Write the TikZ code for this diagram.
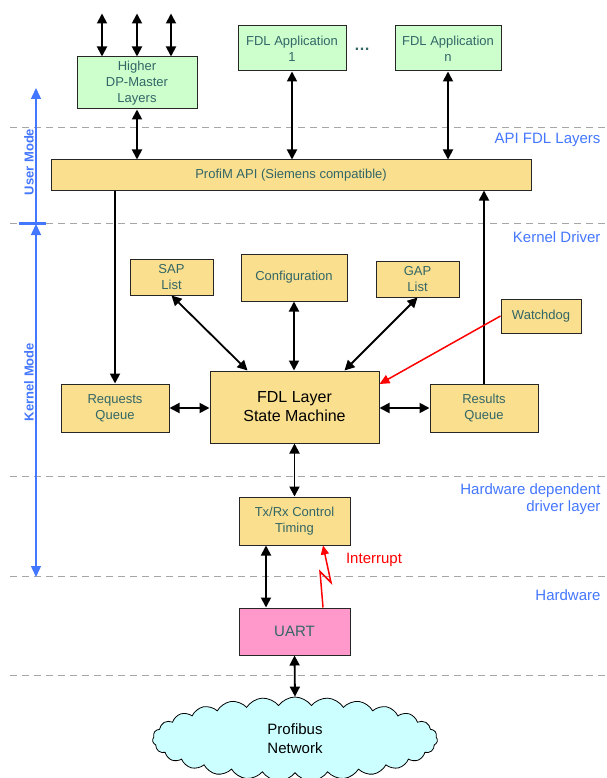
\documentclass[tikz,border=0pt]{standalone}
\usepackage{fontspec}
\setmainfont{Liberation Sans}
\usetikzlibrary{arrows.meta,shapes.symbols}
\definecolor{boxyellow}{HTML}{F9DF8E}
\definecolor{boxgreen}{HTML}{CCFFCC}
\definecolor{boxpink}{HTML}{FF99CC}
\definecolor{cloudcyan}{HTML}{CCFFFF}
\definecolor{labelblue}{HTML}{4477FF}
\definecolor{boxtext}{HTML}{336666}
\begin{document}
\begin{tikzpicture}[x=1pt, y=-1pt,
    box/.style={draw=black!85, line width=1pt, text=boxtext, align=center, inner sep=0pt,
        font=\fontsize{13}{16}\selectfont},
    ybox/.style={box, fill=boxyellow},
    gbox/.style={box, fill=boxgreen},
    link/.style={line width=1.8pt, {Triangle[length=10pt,width=10pt]}-{Triangle[length=10pt,width=10pt]}},
    flow/.style={line width=1.8pt, -{Triangle[length=10pt,width=10pt]}},
    layer/.style={gray!70, line width=1pt, dash pattern=on 7pt off 5pt},
    layername/.style={labelblue, anchor=east, align=right, font=\fontsize{15}{17}\selectfont},
    modename/.style={labelblue, rotate=90, font=\bfseries\fontsize{13}{15}\selectfont}]
    \useasboundingbox (0,0) rectangle (606,778);

    % Layer borders
    \foreach \ly in {128,223,476,576,675}
        \draw[layer] (10,\ly) -- (606,\ly);
    \node[layername] (lapi) at (604,140) {API FDL Layers};
    \node[layername] (lkern) at (604,237) {Kernel Driver};
    \node[layername] (lhwdrv) at (604,499) {Hardware dependent\\driver layer};
    \node[layername] (lhw) at (604,595) {Hardware};

    % User / kernel mode
    \coordinate (umtop) at (36,88);
    \coordinate (umbot) at (36,223);
    \coordinate (kmtop) at (36,224);
    \coordinate (kmbot) at (36,577);
    \draw[labelblue, line width=1.5pt, -{Triangle[length=11pt,width=10pt]}] (umbot) -- (umtop);
    \draw[labelblue, line width=1.5pt, {Triangle[length=11pt,width=10pt]}-{Triangle[length=11pt,width=10pt]}] (kmtop) -- (kmbot);
    \draw[labelblue, line width=3pt] ([xshift=-17pt]umbot) -- ([xshift=10pt]umbot);
    \node[modename] (umode) at (29,162) {User Mode};
    \node[modename] (kmode) at (29,382) {Kernel Mode};

    % User space
    \node[gbox, minimum width=120pt, minimum height=52pt] (hdp) at (137,83) {Higher\\DP-Master\\Layers};
    \node[gbox, minimum width=108pt, minimum height=45pt] (app1) at (292,48.5) {FDL Application\\1};
    \node[gbox, minimum width=106pt, minimum height=45pt] (appn) at (448,48.5) {FDL Application\\n};
    \node[text=boxtext, font=\bfseries\fontsize{16}{17}\selectfont] (dots) at (362,49) {\dots};
    \node[ybox, minimum width=480pt, minimum height=30pt] (api) at (291,175) {ProfiM API (Siemens compatible)};

    % Kernel
    \node[ybox, minimum width=83pt, minimum height=36pt] (sap) at (171.5,277) {SAP\\List};
    \node[ybox, minimum width=106pt, minimum height=47pt] (conf) at (294,277.5) {Configuration};
    \node[ybox, minimum width=83pt, minimum height=36pt] (gap) at (417.5,279) {GAP\\List};
    \node[ybox, minimum width=80pt, minimum height=34pt] (wdog) at (541,316) {Watchdog};
    \node[ybox, minimum width=108pt, minimum height=48pt] (req) at (115,408) {Requests\\Queue};
    \node[ybox, minimum width=169pt, minimum height=72pt, text=black,
        font=\fontsize{16}{19}\selectfont] (fdl) at (294.5,407) {FDL Layer\\State Machine};
    \node[ybox, minimum width=108pt, minimum height=48pt] (res) at (484,408) {Results\\Queue};

    % Hardware
    \node[ybox, minimum width=111pt, minimum height=48pt] (txrx) at (294.5,521) {Tx/Rx Control\\Timing};
    \node[box, fill=boxpink, minimum width=111pt, minimum height=47pt,
        font=\fontsize{15}{17}\selectfont] (uart) at (294.5,631.5) {UART};
    \node[cloud, cloud puffs=27, cloud puff arc=110, draw=black, line width=0.8pt, fill=cloudcyan,
        minimum width=285pt, minimum height=84pt, align=center, inner sep=0pt,
        font=\fontsize{15}{19}\selectfont] (net) at (295,739) {Profibus\\Network};

    % Connections
    \foreach \tx in {-35,0,34}
        \draw[link] ([xshift=\tx pt]hdp.north) -- ++(0,-43);
    \draw[link] (hdp.south) -- (hdp.south |- api.north);
    \draw[link] (app1.south) -- (app1.south |- api.north);
    \draw[link] (appn.south) -- (appn.south |- api.north);
    \draw[flow] (req.north |- api.south) -- (req.north);
    \draw[flow] (res.north) -- (res.north |- api.south);
    \draw[link] (sap.south) -- ([xshift=-47pt]fdl.north);
    \draw[link] (conf.south) -- (conf.south |- fdl.north);
    \draw[link] (gap.south) -- ([xshift=50pt]fdl.north);
    \draw[link] (req.east) -- (req.east -| fdl.west);
    \draw[link] (fdl.east |- res.west) -- (res.west);
    \draw[red, line width=1.5pt, -{Triangle[length=10pt,width=9pt]}] (wdog.west) -- ([yshift=23pt]fdl.east);
    \draw[link] (fdl.south) -- (txrx.north);
    \draw[link] ([xshift=-28.5pt]txrx.south) -- ([xshift=-28.5pt]uart.north);
    \draw[red, line width=1.5pt, -{Triangle[length=9pt,width=8pt]}]
        ([xshift=28.5pt]uart.north) -- ++(-3,-36) -- ++(11,11) -- ([xshift=28.5pt]txrx.south);
    \node[red, font=\fontsize{15}{17}\selectfont] (intr) at (374,560) {Interrupt};
    \draw[link] (uart.south) -- (net.north);
\end{tikzpicture}
\end{document}
